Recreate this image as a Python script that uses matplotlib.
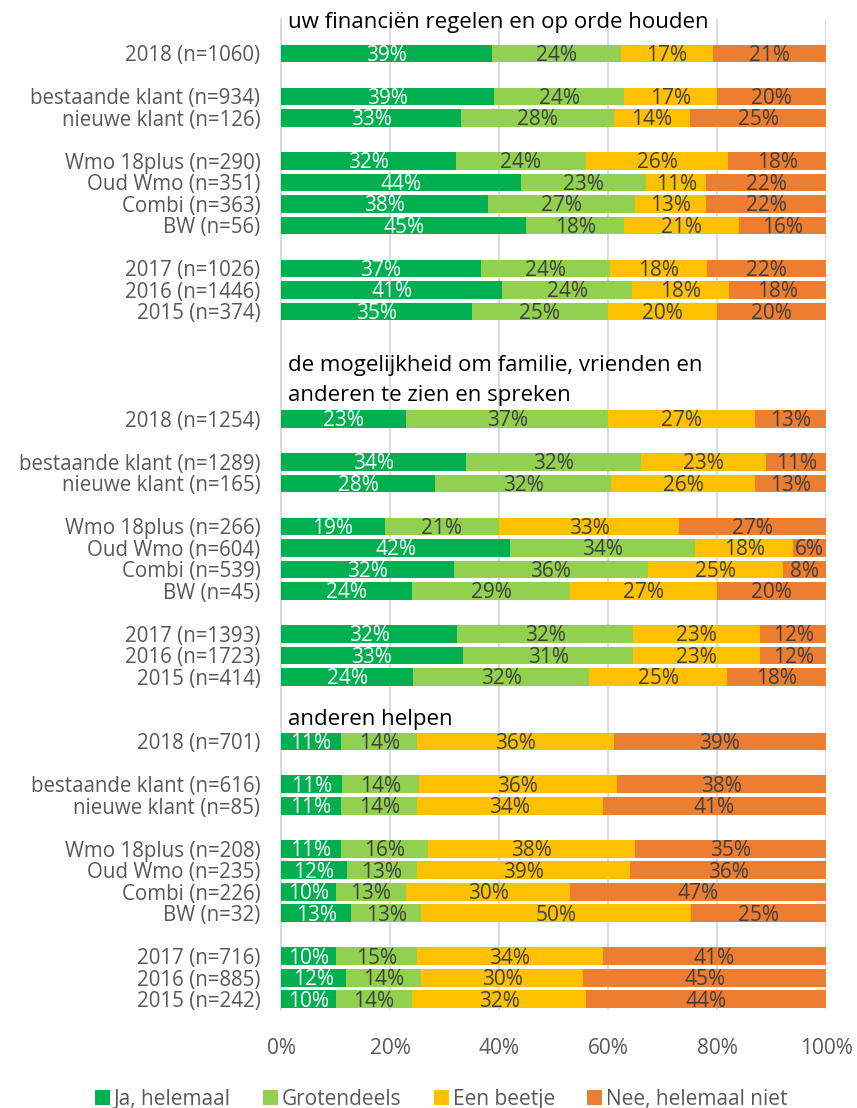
import matplotlib.pyplot as plt
import numpy as np

plt.rcParams['font.family'] = ['Open Sans', 'DejaVu Sans']

# antwoordcategorieen en kleuren
answers = ['Ja, helemaal', 'Grotendeels', 'Een beetje', 'Nee, helemaal niet']
colors = ['#00B050', '#92D050', '#FFC000', '#ED7D31']
label_colors = ['white', '#404040', '#404040', '#404040']

titles = ['uw financiën regelen en op orde houden',
          'de mogelijkheid om familie, vrienden en\nanderen te zien en spreken',
          'anderen helpen']

rows_1 = ['2018 (n=1060)', 'bestaande klant (n=934)', 'nieuwe klant (n=126)',
          'Wmo 18plus (n=290)', 'Oud Wmo (n=351)', 'Combi (n=363)', 'BW (n=56)',
          '2017 (n=1026)', '2016 (n=1446)', '2015 (n=374)']
vals_1 = [[39, 24, 17, 21], [39, 24, 17, 20], [33, 28, 14, 25],
          [32, 24, 26, 18], [44, 23, 11, 22], [38, 27, 13, 22], [45, 18, 21, 16],
          [37, 24, 18, 22], [41, 24, 18, 18], [35, 25, 20, 20]]

rows_2 = ['2018 (n=1254)', 'bestaande klant (n=1289)', 'nieuwe klant (n=165)',
          'Wmo 18plus (n=266)', 'Oud Wmo (n=604)', 'Combi (n=539)', 'BW (n=45)',
          '2017 (n=1393)', '2016 (n=1723)', '2015 (n=414)']
vals_2 = [[23, 37, 27, 13], [34, 32, 23, 11], [28, 32, 26, 13],
          [19, 21, 33, 27], [42, 34, 18, 6], [32, 36, 25, 8], [24, 29, 27, 20],
          [32, 32, 23, 12], [33, 31, 23, 12], [24, 32, 25, 18]]

rows_3 = ['2018 (n=701)', 'bestaande klant (n=616)', 'nieuwe klant (n=85)',
          'Wmo 18plus (n=208)', 'Oud Wmo (n=235)', 'Combi (n=226)', 'BW (n=32)',
          '2017 (n=716)', '2016 (n=885)', '2015 (n=242)']
vals_3 = [[11, 14, 36, 39], [11, 14, 36, 38], [11, 14, 34, 41],
          [11, 16, 38, 35], [12, 13, 39, 36], [10, 13, 30, 47], [13, 13, 50, 25],
          [10, 15, 34, 41], [12, 14, 30, 45], [10, 14, 32, 44]]

groups = [(rows_1, vals_1), (rows_2, vals_2), (rows_3, vals_3)]

# posities (rij-slots) binnen elke groep
group_start = [0, 17, 32]
title_pos = [-0.45, 16.2, 32.0]
row_offsets = [1, 3, 4, 6, 7, 8, 9, 11, 12, 13]

fig = plt.figure(figsize=(8.57, 11.08), dpi=100)
ax = fig.add_axes([0.328, 0.0884, 0.636, 0.8945])

ytick_pos = []
ytick_lab = []
for g, (rows, vals) in enumerate(groups):
    ypos = np.array([group_start[g] + o for o in row_offsets])
    data = np.array(vals, dtype=float)
    # 100% gestapeld, zoals in Excel
    data = data / data.sum(axis=1, keepdims=True) * 100
    left = np.zeros(len(rows))
    for j in range(4):
        ax.barh(ypos, data[:, j], left=left, height=0.82, color=colors[j],
                label=answers[j] if g == 0 else None, zorder=3)
        for i in range(len(rows)):
            ax.text(left[i] + data[i, j] / 2, ypos[i] + 0.08, f'{vals[i][j]}%',
                    ha='center', va='center', fontsize=15,
                    color=label_colors[j], zorder=4)
        left += data[:, j]
    ytick_pos.extend(ypos)
    ytick_lab.extend(rows)
    ax.text(1.2, title_pos[g], titles[g], ha='left', va='center', fontsize=16,
            color='black', linespacing=1.55, zorder=5, clip_on=False)

ax.set_xlim(0, 100)
ax.set_ylim(45.5, -0.6)
ax.set_yticks(ytick_pos)
ax.set_yticklabels(ytick_lab)
ax.set_xticks(range(0, 101, 20))
ax.set_xticklabels([f'{v}%' for v in range(0, 101, 20)])
ax.tick_params(axis='y', length=0, pad=15, labelsize=14.8, labelcolor='#595959')
ax.tick_params(axis='x', length=0, pad=20, labelsize=15, labelcolor='#595959')
ax.grid(axis='x', color='#D9D9D9', linewidth=1.3, zorder=0)
for side in ['top', 'right', 'bottom']:
    ax.spines[side].set_visible(False)
ax.spines['left'].set_color('#D9D9D9')
ax.spines['left'].set_linewidth(1.3)

fig.legend(loc='center', bbox_to_anchor=(0.515, 0.008), ncol=4, frameon=False,
           fontsize=15, handlelength=0.7, handleheight=0.7, handletextpad=0.2,
           columnspacing=1.55, labelcolor='#595959')

plt.savefig('out.png', dpi=100)
